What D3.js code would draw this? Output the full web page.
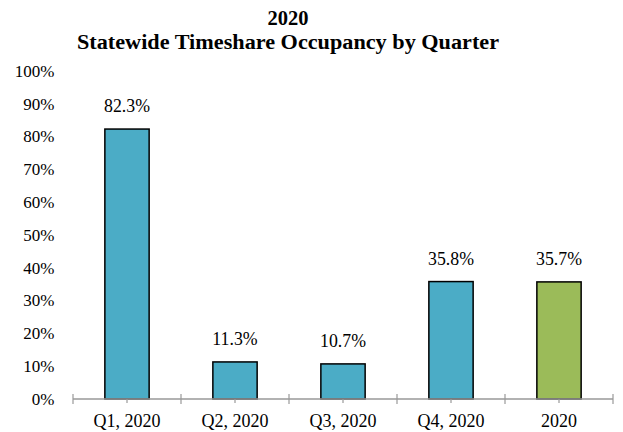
<!DOCTYPE html>
<html><head><meta charset="utf-8">
<script src="https://cdn.jsdelivr.net/npm/d3@7"></script>
<style>body{margin:0;background:#fff}</style>
</head><body>
<svg id="c" width="623" height="432"></svg>
<script>
const categories = ["Q1, 2020","Q2, 2020","Q3, 2020","Q4, 2020","2020"];
const values = [82.3, 11.3, 10.7, 35.8, 35.7];
const barColors = ["#4BACC6","#4BACC6","#4BACC6","#4BACC6","#9BBB59"];
const yTicks = [0,10,20,30,40,50,60,70,80,90,100];
const titleLines = ["2020","Statewide Timeshare Occupancy by Quarter"];

const svg = d3.select("#c");
const font = "'Liberation Serif','Times New Roman',serif";
const x = d3.scaleBand().domain(categories).range([73, 613]).paddingInner(0.59).paddingOuter(0.295);
const xb = d3.scaleBand().domain(categories).range([73, 613]);
const y = d3.scaleLinear().domain([0,100]).range([399, 71]);

svg.selectAll("text.title").data(titleLines).enter().append("text")
  .attr("x", 288).attr("y",(d,i)=>25+i*24).attr("text-anchor","middle")
  .style("font-family",font).style("font-weight","bold").style("font-size","20.5px")
  .each(function(d,i){ if(i===1) d3.select(this).attr("textLength",422).attr("lengthAdjust","spacingAndGlyphs"); })
  .text(d=>d);

svg.selectAll("text.yl").data(yTicks).enter().append("text")
  .attr("x", 54.5).attr("y", d=>y(d)+5.7).attr("text-anchor","end")
  .style("font-family",font).style("font-size","17px").text(d=>d+"%");

svg.selectAll("rect.bar").data(values).enter().append("rect")
  .attr("x",(d,i)=>x(categories[i])).attr("width",x.bandwidth())
  .attr("y",d=>y(d)).attr("height",d=>y(0)-y(d))
  .attr("fill",(d,i)=>barColors[i]).attr("stroke","#000").attr("stroke-width",1.5);

svg.selectAll("text.dl").data(values).enter().append("text")
  .attr("x",(d,i)=>x(categories[i])+x.bandwidth()/2).attr("y",d=>y(d)-17)
  .attr("text-anchor","middle").style("font-family",font).style("font-size","17.8px")
  .text(d=>d.toFixed(1)+"%");

// x axis
const ax = svg.append("g");
ax.append("line").attr("x1",73).attr("x2",613).attr("y1",399).attr("y2",399).attr("stroke","#999").attr("stroke-width",1.5);
const bounds = categories.map(c=>xb(c)).concat([613]);
ax.selectAll("line.bt").data(bounds).enter().append("line")
  .attr("x1",d=>d).attr("x2",d=>d).attr("y1",394).attr("y2",404).attr("stroke","#999").attr("stroke-width",1.2);
ax.selectAll("line.mt").data(categories).enter().append("line")
  .attr("x1",d=>xb(d)+xb.bandwidth()/2).attr("x2",d=>xb(d)+xb.bandwidth()/2).attr("y1",399).attr("y2",403).attr("stroke","#999").attr("stroke-width",1.2);
ax.selectAll("text.xl").data(categories).enter().append("text")
  .attr("x",d=>xb(d)+xb.bandwidth()/2).attr("y",426.7).attr("text-anchor","middle")
  .style("font-family",font).style("font-size","18px").text(d=>d);
</script>
</body></html>
